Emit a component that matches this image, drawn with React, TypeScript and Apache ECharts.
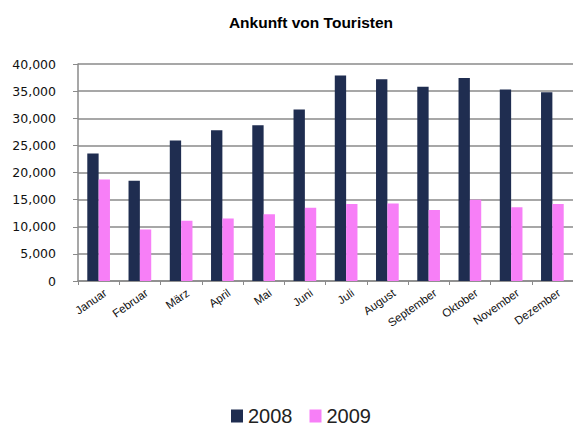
import React, { useEffect, useRef } from "react";
import * as echarts from "echarts";

const months = ["Januar", "Februar", "März", "April", "Mai", "Juni", "Juli", "August", "September", "Oktober", "November", "Dezember"];
const values2008 = [23500, 18500, 25900, 27800, 28700, 31600, 37900, 37200, 35800, 37400, 35300, 34800];
const values2009 = [18700, 9500, 11100, 11500, 12300, 13500, 14200, 14300, 13100, 15000, 13600, 14200];
const seriesNames = ["2008", "2009"];

export default function App() {
  const ref = useRef<HTMLDivElement>(null);
  useEffect(() => {
    if (!ref.current) return;
    const chart = echarts.init(ref.current, null, { renderer: "svg" });
    chart.setOption({
      animation: false,
      backgroundColor: "#ffffff",
      title: {
        text: "Ankunft von Touristen",
        left: 306,
        textAlign: "center",
        top: 9,
        textStyle: { fontFamily: "Liberation Sans, Arial", fontSize: 15.5, fontWeight: "bold", color: "#000" },
      },
      legend: {
        data: seriesNames,
        top: 401,
        left: 226,
        itemWidth: 12,
        itemHeight: 13,
        itemGap: 17,
        icon: "rect",
        textStyle: { fontFamily: "Liberation Sans, Arial", fontSize: 20, color: "#222" },
      },
      grid: { left: 78, top: 64, bottom: 145, right: -4 },
      xAxis: {
        type: "category",
        data: months,
        axisLine: { lineStyle: { color: "#8a8a8a", width: 1.5 } },
        axisTick: { show: true, length: 4, lineStyle: { color: "#8a8a8a" } },
        axisLabel: {
          rotate: 35,
          fontFamily: "Liberation Sans, Arial",
          fontSize: 11.5,
          color: "#111",
          margin: 8,
          interval: 0,
          verticalAlign: "top",
          padding: [0, -4, 0, 0],
        },
      },
      yAxis: {
        type: "value",
        min: 0,
        max: 40000,
        interval: 5000,
        axisLine: { show: true, lineStyle: { color: "#8a8a8a", width: 1.5 } },
        axisTick: { show: true, length: 5, lineStyle: { color: "#8a8a8a" } },
        splitLine: { lineStyle: { color: "#8a8a8a", width: 1.5 } },
        axisLabel: {
          fontFamily: "DejaVu Sans",
          fontSize: 12.5,
          color: "#111",
          margin: 22,
          formatter: (v: number) => v.toLocaleString("en-US"),
        },
      },
      series: [
        { name: seriesNames[0], type: "bar", data: values2008, barGap: "0%", barCategoryGap: "45%", itemStyle: { color: "#1f2d50" } },
        { name: seriesNames[1], type: "bar", data: values2009, barGap: "0%", barCategoryGap: "45%", itemStyle: { color: "#f77ff7" } },
      ],
    });
    return () => chart.dispose();
  }, []);
  return <div ref={ref} style={{ width: 573, height: 426, position: "absolute", left: 0, top: 0 }} />;
}
